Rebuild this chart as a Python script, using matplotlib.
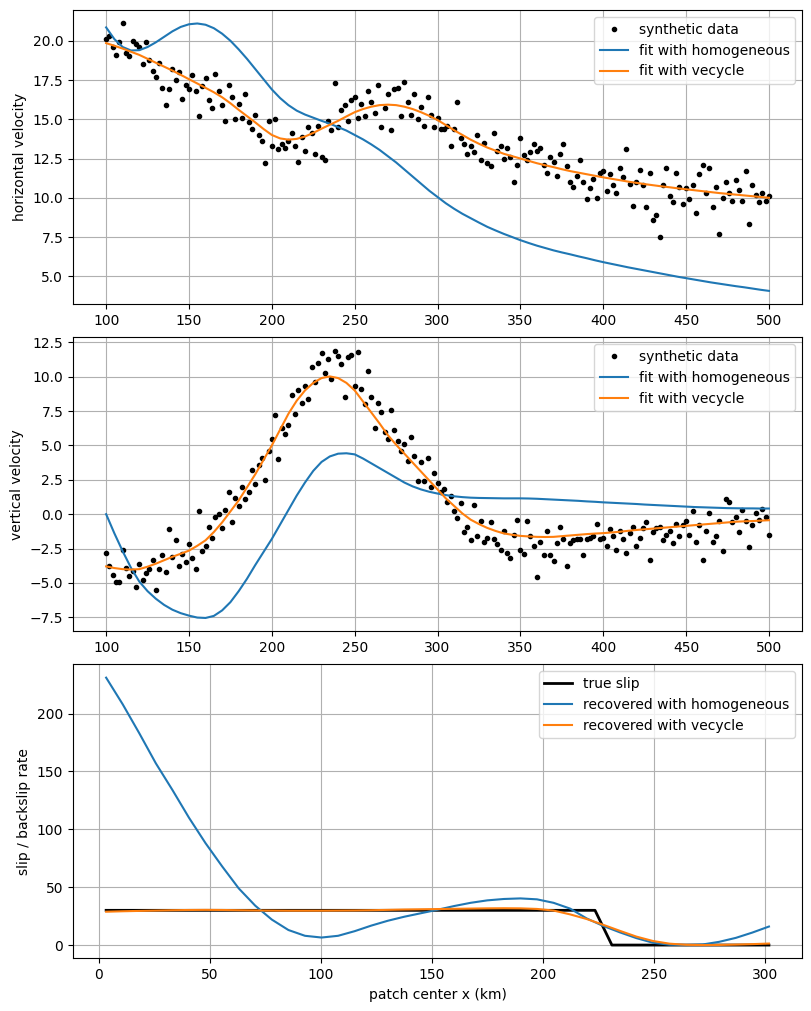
import numpy as np
import matplotlib.pyplot as plt

# station positions (km) of the synthetic data
x_data = np.arange(100, 501, 2)

vx_data = [
    20.1, 20.3, 19.6, 19.1, 19.9, 21.1, 19.2, 19.0, 20.0, 19.8,
    19.6, 18.5, 19.9, 18.8, 18.1, 17.7, 18.6, 17.0, 15.9, 16.9,
    18.2, 17.5, 18.0, 16.3, 17.2, 16.9, 17.8, 16.8, 15.2, 17.1,
    17.6, 16.2, 15.7, 17.9, 16.8, 15.9, 14.9, 17.2, 16.4, 15.0,
    16.0, 15.1, 16.6, 14.8, 14.4, 15.3, 14.0, 13.6, 12.2, 14.9,
    13.3, 15.0, 13.1, 13.4, 13.2, 13.6, 14.1, 13.3, 12.3, 13.9,
    13.0, 14.5, 14.1, 12.8, 14.6, 12.6, 12.4, 14.9, 14.3, 17.3,
    14.5, 15.6, 15.9, 14.9, 16.2, 16.4, 15.1, 16.0, 15.2, 16.8,
    16.1, 15.4, 17.2, 14.5, 15.7, 16.6, 14.3, 16.9, 17.0, 15.2,
    17.4, 16.1, 15.3, 16.6, 15.0, 15.8, 14.6, 16.4, 15.3, 14.5,
    15.1, 14.4, 14.4, 14.6, 13.3, 14.4, 16.1, 13.8, 13.4, 12.8,
    13.3, 12.9, 14.0, 12.4, 13.5, 12.2, 12.0, 14.1, 13.0, 13.3,
    12.5, 13.2, 12.6, 11.0, 12.1, 13.8, 12.7, 12.4, 12.9, 13.4,
    13.0, 13.2, 12.1, 11.6, 12.6, 12.3, 11.4, 12.8, 13.4, 12.0,
    11.0, 10.7, 11.4, 12.4, 11.0, 9.9, 10.6, 11.2, 10.0, 11.6,
    11.7, 10.4, 11.5, 10.8, 10.3, 11.9, 11.3, 13.1, 10.9, 9.5,
    11.0, 11.8, 10.8, 9.4, 11.6, 8.6, 8.9, 7.5, 10.8, 11.9,
    10.1, 9.7, 11.6, 10.7, 9.6, 10.6, 9.9, 10.8, 9.0, 11.5,
    12.1, 10.3, 11.9, 9.4, 10.7, 7.7, 10.0, 11.0, 10.3, 9.8,
    11.1, 10.5, 9.8, 11.7, 8.3, 10.8, 10.2, 9.7, 10.3, 9.8,
    10.1,
]

vz_data = [
    -2.8, -3.8, -4.4, -4.9, -4.9, -2.6, -3.9, -4.5, -4.1, -5.3,
    -3.6, -4.8, -4.3, -4.0, -3.3, -5.5, -4.0, -3.0, -4.2, -1.1,
    -3.1, -1.9, -3.8, -2.9, -3.5, -2.2, -3.2, -4.0, 0.2, -2.7,
    -2.3, -0.9, -1.7, -0.2, 0.0, -1.0, 0.3, 1.6, -0.6, 1.2,
    0.6, 2.0, 1.1, 1.6, 3.2, 2.2, 3.6, 4.1, 2.5, 4.6,
    5.5, 7.2, 4.0, 6.3, 5.8, 6.5, 8.7, 7.3, 9.0, 8.1,
    9.3, 8.4, 10.7, 9.6, 11.0, 11.7, 10.3, 11.3, 9.8, 11.9,
    11.5, 10.9, 8.5, 11.4, 11.6, 9.3, 11.8, 9.1, 8.0, 10.4,
    8.5, 6.3, 8.1, 7.4, 6.0, 5.5, 7.6, 6.1, 5.3, 4.6,
    5.1, 3.9, 5.6, 4.2, 2.4, 3.8, 2.4, 4.1, 2.0, 3.0,
    2.3, 1.6, 1.8, 0.9, 1.3, 0.2, -0.3, 0.8, -1.3, -0.9,
    -1.9, 0.7, -1.6, -0.5, -2.0, -1.7, -0.6, -1.8, -2.2, -2.6,
    -1.2, -2.8, -3.2, -1.5, -0.4, -2.6, -2.9, -0.5, -1.6, -2.3,
    -4.6, -2.0, -3.0, -1.2, -3.0, -3.4, -2.1, -0.9, -1.8, -3.8,
    -2.1, -1.9, -1.8, -1.8, -3.0, -1.8, -1.7, -1.6, -0.7, -1.8,
    -1.7, -2.3, -1.1, -1.6, -2.6, -1.2, -1.8, -2.8, -1.4, -0.9,
    -2.3, -1.7, -1.0, -0.6, -3.3, -1.3, -1.0, -0.9, -1.9, -1.5,
    -1.2, -2.1, -0.7, -1.6, -0.8, -0.5, -1.5, 0.2, -2.0, -0.8,
    -3.3, -1.2, 0.1, -2.0, -1.6, -0.5, -2.7, 1.1, 0.9, -0.6,
    -0.2, -1.3, 0.3, -0.5, -2.4, -0.8, 0.1, -0.4, 0.4, -0.2,
    -1.5,
]

# model predictions, sampled every 5 km
x_fit = np.arange(100, 501, 5)

vx_homog = [
    20.85, 20.1, 19.6, 19.38, 19.4, 19.6, 19.9, 20.25, 20.6, 20.88,
    21.05, 21.1, 21.02, 20.8, 20.45, 20.0, 19.45, 18.85, 18.2, 17.55,
    16.9, 16.35, 15.9, 15.55, 15.3, 15.1, 14.9, 14.72, 14.5, 14.28,
    14.0, 13.72, 13.4, 13.05, 12.65, 12.25, 11.8, 11.35, 10.9, 10.45,
    10.05, 9.65, 9.3, 8.98, 8.7, 8.42, 8.15, 7.92, 7.7, 7.5,
    7.3, 7.12, 6.95, 6.8, 6.65, 6.52, 6.4, 6.27, 6.15, 6.02,
    5.9, 5.79, 5.68, 5.57, 5.47, 5.37, 5.27, 5.17, 5.07, 4.97,
    4.88, 4.79, 4.7, 4.61, 4.53, 4.45, 4.37, 4.3, 4.22, 4.14,
    4.07,
]
vx_vecycle = [
    19.85, 19.68, 19.5, 19.3, 19.1, 18.85, 18.6, 18.35, 18.1, 17.83,
    17.55, 17.28, 17.0, 16.72, 16.4, 16.02, 15.6, 15.2, 14.8, 14.38,
    14.0, 13.78, 13.7, 13.75, 13.9, 14.13, 14.4, 14.65, 14.9, 15.18,
    15.45, 15.65, 15.8, 15.9, 15.93, 15.9, 15.8, 15.65, 15.45, 15.22,
    14.95, 14.63, 14.3, 14.0, 13.7, 13.44, 13.2, 13.0, 12.8, 12.65,
    12.5, 12.35, 12.2, 12.07, 11.95, 11.82, 11.7, 11.6, 11.5, 11.4,
    11.3, 11.21, 11.12, 11.03, 10.95, 10.87, 10.8, 10.73, 10.67, 10.6,
    10.54, 10.48, 10.42, 10.36, 10.3, 10.25, 10.2, 10.15, 10.1, 10.05,
    10.0,
]

vz_homog = [
    0.0, -1.4, -2.7, -3.9, -4.9, -5.6, -6.15, -6.6, -6.95, -7.2,
    -7.38, -7.52, -7.55, -7.4, -7.0, -6.4, -5.6, -4.7, -3.7, -2.75,
    -1.8, -0.75, 0.3, 1.35, 2.3, 3.15, 3.8, 4.2, 4.4, 4.43,
    4.35, 4.05, 3.7, 3.35, 3.0, 2.65, 2.3, 2.02, 1.8, 1.63,
    1.5, 1.39, 1.3, 1.24, 1.2, 1.18, 1.17, 1.16, 1.15, 1.15,
    1.15, 1.14, 1.12, 1.09, 1.06, 1.03, 1.0, 0.97, 0.93, 0.9,
    0.86, 0.83, 0.8, 0.77, 0.74, 0.7, 0.67, 0.64, 0.61, 0.58,
    0.55, 0.52, 0.5, 0.48, 0.46, 0.44, 0.43, 0.42, 0.42, 0.41,
    0.41,
]
vz_vecycle = [
    -3.8, -3.92, -4.0, -4.03, -4.0, -3.82, -3.6, -3.35, -3.1, -2.88,
    -2.65, -2.3, -1.9, -1.3, -0.6, 0.2, 1.0, 1.95, 2.9, 3.95,
    5.0, 6.15, 7.3, 8.25, 9.0, 9.55, 9.9, 10.02, 9.9, 9.55,
    9.0, 8.2, 7.4, 6.6, 5.75, 5.05, 4.4, 3.75, 3.1, 2.45,
    1.8, 1.15, 0.6, 0.05, -0.4, -0.72, -1.0, -1.22, -1.4, -1.5,
    -1.58, -1.62, -1.65, -1.66, -1.65, -1.6, -1.55, -1.5, -1.45, -1.41,
    -1.38, -1.33, -1.28, -1.21, -1.15, -1.1, -1.05, -1.0, -0.95, -0.9,
    -0.85, -0.8, -0.75, -0.7, -0.65, -0.6, -0.55, -0.52, -0.5, -0.47,
    -0.44,
]

# slip on the fault patches
patch_x = np.linspace(3.4, 301.8, 41)
true_x = [3.4, 223.5, 231.1, 301.8]
true_slip = [30, 30, 0, 0]
slip_homog = [
    231, 208, 183, 157, 134, 110, 88, 68, 49, 34,
    22, 13, 8, 6.5, 8, 12, 16.8, 21, 24.5, 27.5,
    30.5, 33.7, 36.5, 38.6, 39.8, 40.3, 39.5, 36.5, 31.5, 23,
    16.5, 11, 6, 2, 0.3, 0, 0.5, 2.8, 6.2, 10.8,
    16,
]
slip_vecycle = [
    28.8, 29.2, 29.5, 29.8, 30.1, 30.3, 30.4, 30.3, 30.1, 29.9,
    29.8, 29.7, 29.7, 29.7, 29.8, 29.9, 30.1, 30.4, 30.7, 30.9,
    31.1, 31.3, 31.5, 31.7, 31.8, 31.7, 31.2, 29.8, 26.5, 22.5,
    17.5, 12.3, 7.3, 3.5, 1.2, 0.2, 0.0, 0.1, 0.4, 0.8,
    1.3,
]

fig, axes = plt.subplots(3, 1, figsize=(8.11, 10.11), dpi=100)
fig.subplots_adjust(left=0.090, right=0.989, top=0.990, bottom=0.052, hspace=0.112)

# horizontal velocities
ax = axes[0]
ax.plot(x_data, vx_data, 'k.', label='synthetic data')
ax.plot(x_fit, vx_homog, label='fit with homogeneous')
ax.plot(x_fit, vx_vecycle, label='fit with vecycle')
ax.set_ylabel('horizontal velocity')
ax.legend(loc='upper right')
ax.grid()

# vertical velocities
ax = axes[1]
ax.plot(x_data, vz_data, 'k.', label='synthetic data')
ax.plot(x_fit, vz_homog, label='fit with homogeneous')
ax.plot(x_fit, vz_vecycle, label='fit with vecycle')
ax.set_ylabel('vertical velocity')
ax.legend(loc='upper right')
ax.grid()

# slip
ax = axes[2]
ax.plot(true_x, true_slip, 'k', lw=2, label='true slip')
ax.plot(patch_x, slip_homog, label='recovered with homogeneous')
ax.plot(patch_x, slip_vecycle, label='recovered with vecycle')
ax.set_xlabel('patch center x (km)')
ax.set_ylabel('slip / backslip rate')
ax.legend(loc='upper right')
ax.grid()

plt.savefig('out.png')
